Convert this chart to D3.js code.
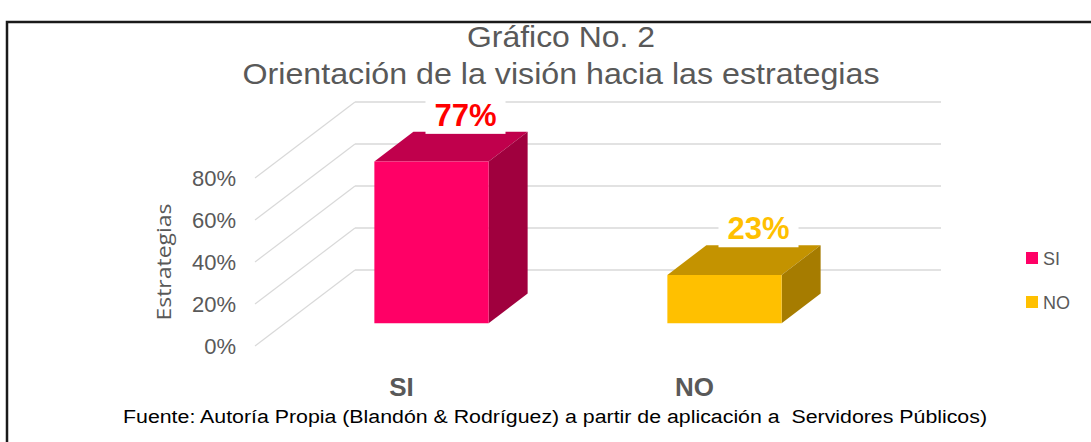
<!DOCTYPE html>
<html>
<head>
<meta charset="utf-8">
<script src="https://cdn.jsdelivr.net/npm/d3@7"></script>
<style>
  body { margin: 0; background: #fff; }
  text { font-family: "Liberation Sans", Arial, sans-serif; }
</style>
</head>
<body>
<div class="chart"></div>
<script>
// data
var categories = ["SI", "NO"];
var values = [0.77, 0.23];
var labels = ["77%", "23%"];
var tickValues = [0, 0.2, 0.4, 0.6, 0.8];
var titleLines = ["Gráfico No. 2", "Orientación de la visión hacia las estrategias"];
var axisTitle = "Estrategias";
var source = "Fuente: Autoría Propia (Blandón & Rodríguez) a partir de aplicación a  Servidores Públicos)";

// colours: front, top, side
var faceColors = [
  {front: "#FF0066", top: "#C0004C", side: "#A0003E", label: "#FF0000"},
  {front: "#FFC000", top: "#C49300", side: "#A67C00", label: "#FFC000"}
];

// dimensions
var width = 1091, height = 442;
var depthX = -100, depthY = 76;   // offset from back wall to front of floor
var barT0 = 0.31, barT1 = 0.70;   // depth the bars occupy

// scales (back wall)
var x = d3.scaleBand().domain(categories).range([355, 941]);
var y = d3.scaleLinear().domain([0, 1]).range([270, 60]);
var barWidth = x.bandwidth() * 0.39;

// project a point on back wall to depth t
function p(px, v, t) {
  return [px + depthX * t, y(v) + depthY * t];
}
function poly(pts) {
  return pts.map(function(d) { return d.join(","); }).join(" ");
}

var svg = d3.select(".chart")
  .append("svg")
  .attr("width", width)
  .attr("height", height);

svg.append("rect").attr("width", width).attr("height", height).attr("fill", "#fff");

// frame
svg.append("path")
  .attr("d", "M7,442V22H1091")
  .attr("fill", "none")
  .attr("stroke", "#1a1a1a")
  .attr("stroke-width", 2.5);

// title
svg.selectAll(".title")
  .data(titleLines)
  .enter()
  .append("text")
  .attr("class", "title")
  .attr("x", 561)
  .attr("y", function(d, i) { return 47 + i * 37; })
  .attr("text-anchor", "middle")
  .attr("font-size", 30)
  .attr("fill", "#595959")
  .attr("textLength", function(d, i) { return i == 0 ? 188 : 637; })
  .attr("lengthAdjust", "spacingAndGlyphs")
  .text(function(d) { return d; });

// gridlines: back wall + side wall
var grid = svg.append("g");
tickValues.forEach(function(v) {
  grid.append("line")
    .attr("x1", x.range()[0]).attr("x2", x.range()[1])
    .attr("y1", y(v)).attr("y2", y(v))
    .attr("stroke", "#D9D9D9").attr("stroke-width", 1.5);
  var a = p(x.range()[0], v, 0), b = p(x.range()[0], v, 1);
  grid.append("line")
    .attr("x1", a[0]).attr("y1", a[1]).attr("x2", b[0]).attr("y2", b[1])
    .attr("stroke", "#D9D9D9").attr("stroke-width", 1.2);
});

// y axis at front of floor
var yFront = d3.scaleLinear().domain([0, 1]).range([270 + depthY, 60 + depthY]);
var yAxis = svg.append("g")
  .attr("transform", "translate(" + (x.range()[0] + depthX) + ",0)")
  .call(d3.axisLeft(yFront).tickValues(tickValues).tickFormat(d3.format(".0%")).tickSize(0).tickPadding(19));
yAxis.select(".domain").remove();
yAxis.selectAll("text")
  .attr("font-family", "Liberation Sans, Arial, sans-serif")
  .attr("font-size", 22)
  .attr("fill", "#595959");

// axis title
svg.append("text")
  .attr("transform", "translate(171,262) rotate(-90)")
  .attr("text-anchor", "middle")
  .attr("font-size", 20)
  .style("font-family", "'Open Sans', sans-serif")
  .attr("fill", "#595959")
  .attr("textLength", 117)
  .attr("lengthAdjust", "spacingAndGlyphs")
  .text(axisTitle);

// bars
var bars = svg.selectAll(".bar")
  .data(categories)
  .enter()
  .append("g")
  .attr("class", "bar");

bars.each(function(c, i) {
  var g = d3.select(this);
  var xl = x(c) + (x.bandwidth() - barWidth) / 2;
  var xr = xl + barWidth;
  var v = values[i];
  var col = faceColors[i];
  // top
  g.append("polygon")
    .attr("points", poly([p(xl, v, barT1), p(xl, v, barT0), p(xr, v, barT0), p(xr, v, barT1)]))
    .attr("fill", col.top);
  // side
  g.append("polygon")
    .attr("points", poly([p(xr, v, barT1), p(xr, v, barT0), p(xr, 0, barT0), p(xr, 0, barT1)]))
    .attr("fill", col.side);
  // front
  g.append("polygon")
    .attr("points", poly([p(xl, v, barT1), p(xr, v, barT1), p(xr, 0, barT1), p(xl, 0, barT1)]))
    .attr("fill", col.front);

  // data label
  var lp = p(x(c) + x.bandwidth() / 2, v, 0.36);
  var base = p(0, v, barT0)[1] - 6;
  g.append("rect")
    .attr("x", lp[0] - 40).attr("y", base - 29)
    .attr("width", 80).attr("height", 37)
    .attr("fill", "#fff");
  g.append("text")
    .attr("x", lp[0]).attr("y", base)
    .attr("text-anchor", "middle")
    .attr("font-size", 31)
    .attr("font-weight", "bold")
    .attr("fill", col.label)
    .text(labels[i]);
});

// category labels at front of floor
svg.selectAll(".cat")
  .data(categories)
  .enter()
  .append("text")
  .attr("class", "cat")
  .attr("x", function(d) { return x(d) + x.bandwidth() / 2 + depthX; })
  .attr("y", 396)
  .attr("text-anchor", "middle")
  .attr("font-size", 26)
  .attr("font-weight", "bold")
  .attr("fill", "#595959")
  .text(function(d) { return d; });

// legend
var legend = svg.selectAll(".legend")
  .data(categories)
  .enter()
  .append("g")
  .attr("class", "legend")
  .attr("transform", function(d, i) { return "translate(1026," + (252 + i * 44) + ")"; });
legend.append("rect")
  .attr("width", 12).attr("height", 12)
  .attr("fill", function(d, i) { return faceColors[i].front; });
legend.append("text")
  .attr("x", 17).attr("y", 13)
  .attr("font-size", 18)
  .attr("fill", "#595959")
  .text(function(d) { return d; });

// source
svg.append("text")
  .attr("x", 555)
  .attr("y", 423)
  .attr("text-anchor", "middle")
  .attr("font-size", 18)
  .attr("fill", "#000")
  .attr("textLength", 864)
  .attr("lengthAdjust", "spacingAndGlyphs")
  .style("white-space", "pre")
  .text(source);
</script>
</body>
</html>
